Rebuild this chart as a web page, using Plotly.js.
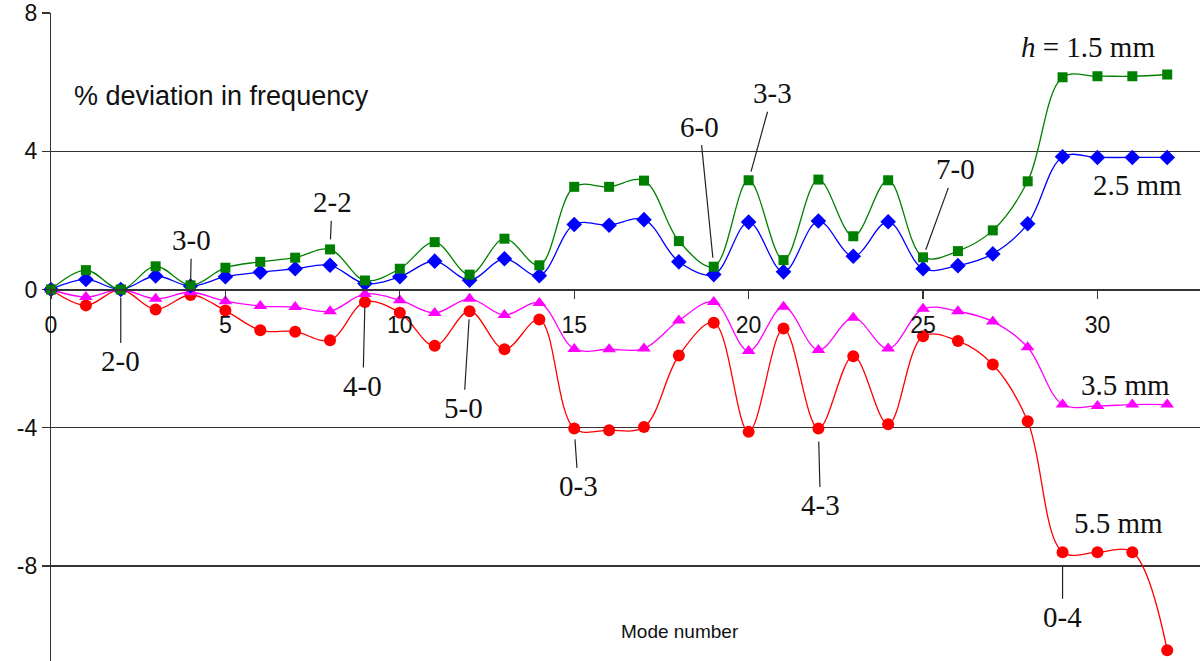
<!DOCTYPE html>
<html>
<head>
<meta charset="utf-8">
<script src="https://cdn.plot.ly/plotly-3.0.1.min.js"></script>
<style>html,body{margin:0;padding:0;background:#fff;}#chart{width:1200px;height:661px;}</style>
</head>
<body>
<div id="chart"></div>
<script>
// Mode numbers
var modes = [0,1,2,3,4,5,6,7,8,9,10,11,12,13,14,15,16,17,18,19,20,21,22,23,24,25,26,27,28,29,30,31,32];

// % deviation in frequency for each plate thickness
var h15 = [0, 0.56, 0, 0.67, 0.12, 0.63, 0.80, 0.92, 1.16, 0.26, 0.60, 1.37, 0.43, 1.47, 0.70, 2.97, 2.97, 3.15, 1.40, 0.66, 3.16, 0.85, 3.18, 1.54, 3.16, 0.93, 1.11, 1.71, 3.13, 6.14, 6.17, 6.17, 6.22];
var h25 = [0, 0.29, 0, 0.39, 0.10, 0.37, 0.50, 0.60, 0.70, 0.17, 0.37, 0.82, 0.27, 0.89, 0.40, 1.88, 1.86, 2.02, 0.80, 0.43, 1.95, 0.51, 1.98, 0.96, 1.96, 0.60, 0.69, 1.03, 1.90, 3.84, 3.82, 3.82, 3.82];
var h35 = [0, -0.22, 0, -0.27, -0.08, -0.34, -0.48, -0.51, -0.63, -0.13, -0.31, -0.68, -0.27, -0.74, -0.39, -1.72, -1.73, -1.71, -0.90, -0.36, -1.78, -0.50, -1.75, -0.82, -1.71, -0.56, -0.63, -0.93, -1.67, -3.33, -3.37, -3.33, -3.33];
var h55 = [0, -0.46, 0, -0.58, -0.16, -0.61, -1.18, -1.22, -1.47, -0.36, -0.67, -1.63, -0.63, -1.73, -0.87, -4.02, -4.07, -3.98, -1.91, -0.96, -4.12, -1.13, -4.02, -1.93, -3.90, -1.35, -1.49, -2.17, -3.81, -7.60, -7.60, -7.60, -10.44];

var seriesNames = ['h = 1.5 mm', '2.5 mm', '3.5 mm', '5.5 mm'];

// Mode-shape labels: text, mode index, series they point at
var modeLabels = ['2-0', '3-0', '2-2', '4-0', '5-0', '0-3', '6-0', '3-3', '4-3', '7-0', '0-4'];
var modeLabelIdx = [2, 4, 8, 9, 12, 15, 19, 20, 22, 25, 29];
var modeLabelSeries = ['h55', 'h15', 'h15', 'h55', 'h55', 'h55', 'h15', 'h15', 'h55', 'h15', 'h55'];

var tickVals = [0, 5, 10, 15, 20, 25, 30];
var tickText = ['0', '5', '10', '15', '20', '25', '30'];

var seriesMap = {h15: h15, h25: h25, h35: h35, h55: h55};

// styles (offsets in px for each label)
var labelOffsets = [[0,72,8],[1,-45,3],[2,-47,10],[-2,84,5],[-6,97,8],[4,58,11],[-14,-140,9],[24,-87,9],[2,77,13],[32,-88,8],[0,65,14]];

function trace(y, name, color, symbol, size) {
  return {
    x: modes, y: y, name: name, type: 'scatter', mode: 'lines+markers',
    line: {color: color, width: 1.3, shape: 'spline', smoothing: 1},
    marker: {color: color, symbol: symbol, size: size},
    cliponaxis: false, showlegend: false, hoverinfo: 'x+y'
  };
}

var data = [
  trace(h55, seriesNames[3], '#ff0000', 'circle', 12),
  trace(h35, seriesNames[2], '#ff00ff', 'triangle-up', 12),
  trace(h25, seriesNames[1], '#0000ff', 'diamond', 12),
  trace(h15, seriesNames[0], '#008000', 'square', 10)
];

var serif = 'Liberation Serif, Times New Roman, serif';
var sans = 'Liberation Sans, Arial, sans-serif';

var annotations = [];
modeLabels.forEach(function (t, k) {
  var i = modeLabelIdx[k];
  var o = labelOffsets[k];
  annotations.push({
    x: modes[i], y: seriesMap[modeLabelSeries[k]][i], xref: 'x', yref: 'y',
    text: t, showarrow: true, arrowhead: 0, arrowwidth: 1.2, arrowcolor: '#222',
    ax: o[0], ay: o[1], standoff: o[2], borderpad: 2,
    font: {family: serif, size: 29, color: '#111'}
  });
});

// series labels
annotations.push({x: 29.73, y: 7.03, xref: 'x', yref: 'y', showarrow: false,
  text: '<i>h</i> = 1.5 mm', font: {family: serif, size: 29, color: '#111'}});
annotations.push({x: 31.16, y: 3.03, xref: 'x', yref: 'y', showarrow: false,
  text: seriesNames[1], font: {family: serif, size: 29, color: '#111'}});
annotations.push({x: 30.79, y: -2.76, xref: 'x', yref: 'y', showarrow: false,
  text: seriesNames[2], font: {family: serif, size: 29, color: '#111'}});
annotations.push({x: 30.59, y: -6.76, xref: 'x', yref: 'y', showarrow: false,
  text: seriesNames[3], font: {family: serif, size: 29, color: '#111'}});

// axis titles as text
annotations.push({x: 4.9, y: 5.6, xref: 'x', yref: 'y', showarrow: false,
  text: '% deviation in frequency', font: {family: sans, size: 27, color: '#111'}});
annotations.push({x: 18.03, y: -9.89, xref: 'x', yref: 'y', showarrow: false,
  text: 'Mode number', font: {family: sans, size: 19, color: '#111'}});

var yMin = -10.75, yMax = 8;

var layout = {
  width: 1200, height: 661,
  margin: {l: 51, r: 0, t: 13, b: 0, pad: 0},
  paper_bgcolor: '#ffffff', plot_bgcolor: '#ffffff',
  showlegend: false,
  xaxis: {
    range: [0, 32.94], anchor: 'free', position: (0 - yMin) / (yMax - yMin),
    showgrid: false, zeroline: false, showline: true, linecolor: '#333', linewidth: 1.2,
    tickmode: 'array', tickvals: tickVals, ticktext: tickText,
    ticks: 'outside', ticklen: 8, tickcolor: '#333', tickwidth: 1.2,
    ticklabelstandoff: 7,
    tickfont: {family: sans, size: 23, color: '#111'}
  },
  yaxis: {
    range: [yMin, yMax], tickvals: [-8, -4, 0, 4, 8], ticktext: ['-8', '-4', '0', '4', '8'],
    showgrid: true, gridcolor: '#333', gridwidth: 1.2,
    zeroline: false, showline: true, linecolor: '#333', linewidth: 1.2,
    ticks: 'outside', ticklen: 8, tickcolor: '#333', tickwidth: 1.2,
    ticklabelstandoff: 0,
    tickfont: {family: sans, size: 23, color: '#111'}
  },
  annotations: annotations
};

Plotly.newPlot('chart', data, layout, {displayModeBar: false, staticPlot: true});
</script>
</body>
</html>
